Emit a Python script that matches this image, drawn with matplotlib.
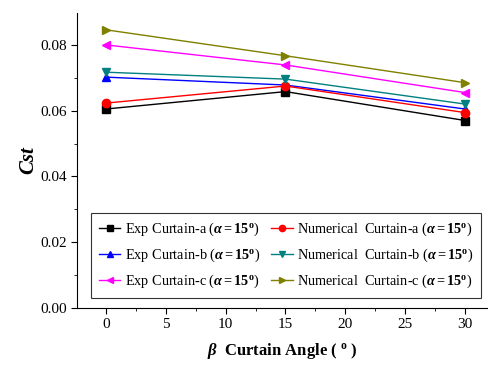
import matplotlib
matplotlib.use("Agg")
import matplotlib.pyplot as plt
from matplotlib.ticker import MultipleLocator

plt.rcParams['font.family'] = ['Liberation Serif', 'DejaVu Serif']
plt.rcParams['mathtext.fontset'] = 'custom'
plt.rcParams['mathtext.rm'] = 'Liberation Serif'
plt.rcParams['mathtext.it'] = 'Liberation Serif:italic'
plt.rcParams['mathtext.bf'] = 'Liberation Serif:bold'
plt.rcParams['mathtext.bfit'] = 'Liberation Serif:bold:italic'

angles = [0, 15, 30]
exp_a = [0.0605, 0.0658, 0.0570]
num_a = [0.0623, 0.0675, 0.0594]
exp_b = [0.0702, 0.0678, 0.0605]
num_b = [0.0717, 0.0696, 0.0620]
exp_c = [0.0800, 0.0739, 0.0655]
num_c = [0.0846, 0.0767, 0.0685]

suffix = r" ($\mathbfit{\alpha}\mathbf{=15^o}$)"
# ordered so that the 2-column legend fills row-wise like the reference
series = [
    ("Exp Curtain-a" + suffix, exp_a, 'black', 's'),
    ("Exp Curtain-b" + suffix, exp_b, 'blue', '^'),
    ("Exp Curtain-c" + suffix, exp_c, 'magenta', '<'),
    ("Numerical  Curtain-a" + suffix, num_a, 'red', 'o'),
    ("Numerical  Curtain-b" + suffix, num_b, '#008080', 'v'),
    ("Numerical  Curtain-c" + suffix, num_c, '#808000', '>'),
]

fig = plt.figure(figsize=(4.88, 3.65), dpi=100)
ax = fig.add_axes([77/488, 1-308/365, 1-77/488, (308-13)/365])

for label, vals, color, marker in series:
    ax.plot(angles, vals, color=color, marker=marker, markersize=6, linewidth=1, label=label)

ax.set_xlim(-2.4, 31.9)
ax.set_ylim(0, 0.0897)
ax.xaxis.set_major_locator(MultipleLocator(5))
ax.xaxis.set_minor_locator(MultipleLocator(2.5))
ax.yaxis.set_major_locator(MultipleLocator(0.02))
ax.yaxis.set_minor_locator(MultipleLocator(0.01))
ax.yaxis.set_major_formatter(matplotlib.ticker.FormatStrFormatter('%.2f'))
ax.tick_params(which='both', direction='out', labelsize=11)
ax.tick_params(which='major', length=4)
ax.tick_params(which='minor', length=2.5)
for s in ['top', 'right']:
    ax.spines[s].set_visible(False)

ax.set_ylabel('Cst', fontsize=15, fontweight='bold', fontstyle='italic', labelpad=1)
ax.set_xlabel(r'$\mathbfit{\beta}$  Curtain Angle ( $^{\mathbf{o}}$ )', fontsize=12,
              fontweight='bold', labelpad=7)

leg = ax.legend(ncol=2, loc='lower left', bbox_to_anchor=(0.034, 0.034), fontsize=10.3,
                frameon=True, fancybox=False, edgecolor='black', handlelength=1.5,
                handletextpad=0.3, columnspacing=0.8, labelspacing=0.6, borderpad=0.55,
                borderaxespad=0, markerscale=0.75)
leg.get_frame().set_linewidth(0.8)

fig.savefig('out.png', dpi=100)
